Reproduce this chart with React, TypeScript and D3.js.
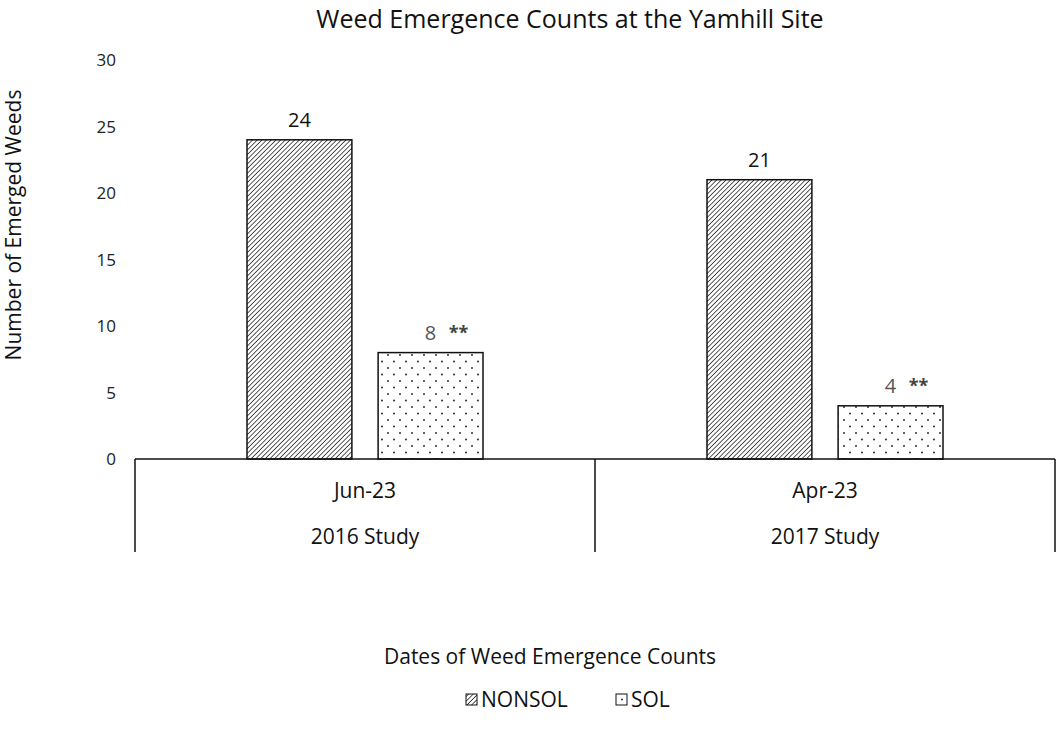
import React from "react";
import * as d3 from "d3";

const categories = ["Jun-23", "Apr-23"];
const groups = ["2016 Study", "2017 Study"];
const series = ["NONSOL", "SOL"];
const nonsolValues = [24, 21];
const solValues = [8, 4];
const solMarks = ["**", "**"];
const yTicks = [0, 5, 10, 15, 20, 25, 30];

const W = 1063;
const H = 743;
const left = 135;
const right = 1055;
const top = 60;
const base = 459;
const font = "'Open Sans', 'Noto Sans', sans-serif";

export default function App() {
  const x0 = d3.scaleBand<string>().domain(categories).range([left, right]).paddingInner(0).paddingOuter(0);
  const y = d3.scaleLinear().domain([0, 30]).range([base, top]);
  const bw = x0.bandwidth();
  const inner = d3.scaleBand<string>().domain(series).range([112, bw - 112]).paddingInner(0.2);
  const values = [nonsolValues, solValues];
  const fills = ["url(#hatch)", "url(#dots)"];

  return (
    <svg width={W} height={H} style={{ position: "absolute", left: 0, top: 0, background: "#fff" }}>
      <defs>
        <pattern id="hatch" patternUnits="userSpaceOnUse" width="3.3" height="3.3" patternTransform="rotate(45)">
          <rect width="3.3" height="3.3" fill="#fff" />
          <line x1="0" y1="0" x2="0" y2="3.3" stroke="#222" strokeWidth="1.5" />
        </pattern>
        <pattern id="dots" patternUnits="userSpaceOnUse" width="12" height="13" x="3" y="3">
          <rect width="12" height="13" fill="#fff" />
          <circle cx="1" cy="1" r="0.95" fill="#222" />
          <circle cx="7" cy="7.5" r="0.95" fill="#222" />
        </pattern>
      </defs>

      <text x={570} y={28} textAnchor="middle" fontFamily={font} fontSize={25} fill="#111">
        Weed Emergence Counts at the Yamhill Site
      </text>

      {yTicks.map((t) => (
        <text key={t} x={116} y={y(t) + 6} textAnchor="end" fontFamily={font} fontSize={17} fill="#222">
          {t}
        </text>
      ))}

      <text
        transform={`translate(21,${225}) rotate(-90)`}
        textAnchor="middle"
        fontFamily={font}
        fontSize={21}
        fill="#111"
      >
        Number of Emerged Weeds
      </text>

      {series.map((s, si) =>
        categories.map((c, ci) => {
          const v = values[si][ci];
          const bx = (x0(c) as number) + (inner(s) as number);
          return (
            <g key={s + c}>
              <rect
                x={bx}
                y={y(v)}
                width={inner.bandwidth()}
                height={base - y(v)}
                fill={fills[si]}
                stroke="#111"
                strokeWidth={1.5}
              />
              <text
                x={bx + inner.bandwidth() / 2}
                y={y(v) - 13}
                textAnchor="middle"
                fontFamily={font}
                fontSize={20}
                fill={si === 0 ? "#111" : "#555"}
              >
                {v}
              </text>
              {si === 1 && (
                <text
                  x={bx + inner.bandwidth() / 2 + 28}
                  y={y(v) - 14}
                  textAnchor="middle"
                  fontFamily={font}
                  fontSize={18}
                  fontWeight="bold"
                  fill="#444"
                >
                  {solMarks[ci]}
                </text>
              )}
            </g>
          );
        })
      )}

      <line x1={left} x2={right} y1={base} y2={base} stroke="#111" strokeWidth={1.5} />
      {[left, left + bw, right].map((xx, i) => (
        <line key={i} x1={xx} x2={xx} y1={base} y2={552} stroke="#111" strokeWidth={1.5} />
      ))}
      {categories.map((c, i) => (
        <g key={c}>
          <text x={(x0(c) as number) + bw / 2} y={498} textAnchor="middle" fontFamily={font} fontSize={21} fill="#111">
            {c}
          </text>
          <text x={(x0(c) as number) + bw / 2} y={544} textAnchor="middle" fontFamily={font} fontSize={21} fill="#111">
            {groups[i]}
          </text>
        </g>
      ))}

      <text x={550} y={664} textAnchor="middle" fontFamily={font} fontSize={21} fill="#111">
        Dates of Weed Emergence Counts
      </text>

      <g>
        <rect x={466} y={694} width={11} height={11} fill="url(#hatch)" stroke="#111" strokeWidth={1} />
        <text x={481} y={707} fontFamily={font} fontSize={21} fill="#111">{series[0]}</text>
        <rect x={616} y={694} width={11} height={11} fill="url(#dots)" stroke="#111" strokeWidth={1} />
        <text x={631} y={707} fontFamily={font} fontSize={21} fill="#111">{series[1]}</text>
      </g>
    </svg>
  );
}
